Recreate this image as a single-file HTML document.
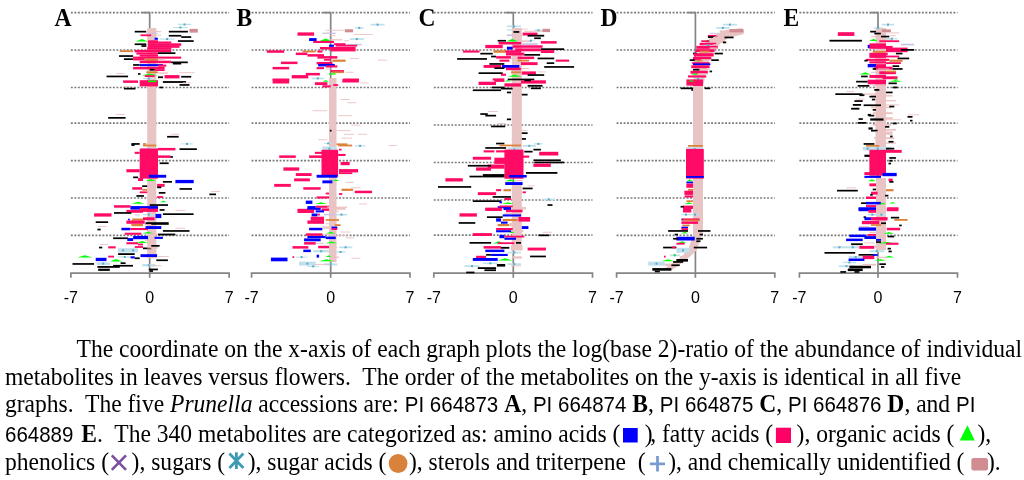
<!DOCTYPE html>
<html><head><meta charset="utf-8"><style>
html,body{margin:0;padding:0;background:#fff;width:1024px;height:480px;overflow:hidden;position:relative}
svg{position:absolute;left:0;top:0}
#ch{filter:blur(0.3px)}
.g{stroke:#7a7a7a;stroke-width:1.7;stroke-dasharray:1.9 1.6;fill:none}
.ax{stroke:#858585;stroke-width:1.7;fill:none}
.pl{position:absolute;font:bold 23.55px/1 "Liberation Serif",serif;color:#000;top:7px;transform-origin:0 19px;transform:scaleY(1.035);filter:grayscale(1)}
.tk{position:absolute;top:289.8px;width:60px;text-align:center;font:16px/1 "Liberation Sans",sans-serif;color:#000;filter:grayscale(1)}
.ln{position:absolute;left:0;white-space:nowrap;font:23.55px/1 "Liberation Serif",serif;color:#000;transform-origin:0 19px;transform:scaleY(1.035);filter:grayscale(1)}
.sf{font-family:"Liberation Sans",sans-serif;font-size:20.5px}
.sp{display:inline-block;width:22.6px}
</style></head><body>
<svg id="ch" width="1024" height="320" viewBox="0 0 1024 320">
<line x1="70.9" y1="12.60" x2="229.1" y2="12.60" class="g"/>
<line x1="70.9" y1="50.00" x2="229.1" y2="50.00" class="g"/>
<line x1="70.9" y1="87.50" x2="229.1" y2="87.50" class="g"/>
<line x1="70.9" y1="123.10" x2="229.1" y2="123.10" class="g"/>
<line x1="70.9" y1="160.60" x2="229.1" y2="160.60" class="g"/>
<line x1="70.9" y1="198.00" x2="229.1" y2="198.00" class="g"/>
<line x1="70.9" y1="235.40" x2="229.1" y2="235.40" class="g"/>
<line x1="251.6" y1="12.60" x2="410.0" y2="12.60" class="g"/>
<line x1="251.6" y1="50.00" x2="410.0" y2="50.00" class="g"/>
<line x1="251.6" y1="87.50" x2="410.0" y2="87.50" class="g"/>
<line x1="251.6" y1="123.10" x2="410.0" y2="123.10" class="g"/>
<line x1="251.6" y1="160.60" x2="410.0" y2="160.60" class="g"/>
<line x1="251.6" y1="198.00" x2="410.0" y2="198.00" class="g"/>
<line x1="251.6" y1="235.40" x2="410.0" y2="235.40" class="g"/>
<line x1="433.8" y1="12.60" x2="592.5" y2="12.60" class="g"/>
<line x1="433.8" y1="50.00" x2="592.5" y2="50.00" class="g"/>
<line x1="433.8" y1="87.50" x2="592.5" y2="87.50" class="g"/>
<line x1="433.8" y1="125.00" x2="592.5" y2="125.00" class="g"/>
<line x1="433.8" y1="162.50" x2="592.5" y2="162.50" class="g"/>
<line x1="433.8" y1="200.00" x2="592.5" y2="200.00" class="g"/>
<line x1="433.8" y1="235.10" x2="592.5" y2="235.10" class="g"/>
<line x1="616.6" y1="12.60" x2="774.8" y2="12.60" class="g"/>
<line x1="616.6" y1="50.00" x2="774.8" y2="50.00" class="g"/>
<line x1="616.6" y1="87.50" x2="774.8" y2="87.50" class="g"/>
<line x1="616.6" y1="123.10" x2="774.8" y2="123.10" class="g"/>
<line x1="616.6" y1="160.60" x2="774.8" y2="160.60" class="g"/>
<line x1="616.6" y1="198.00" x2="774.8" y2="198.00" class="g"/>
<line x1="616.6" y1="235.40" x2="774.8" y2="235.40" class="g"/>
<line x1="799.4" y1="12.60" x2="957.5" y2="12.60" class="g"/>
<line x1="799.4" y1="50.00" x2="957.5" y2="50.00" class="g"/>
<line x1="799.4" y1="87.50" x2="957.5" y2="87.50" class="g"/>
<line x1="799.4" y1="123.10" x2="957.5" y2="123.10" class="g"/>
<line x1="799.4" y1="160.60" x2="957.5" y2="160.60" class="g"/>
<line x1="799.4" y1="198.00" x2="957.5" y2="198.00" class="g"/>
<line x1="799.4" y1="235.40" x2="957.5" y2="235.40" class="g"/>
<path d="M70.9 277.8V273.2H229.1V277.8M149.7 277.8V273.2" class="ax"/>
<path d="M142.2 12.7H149.7V273.2" class="ax"/>
<path d="M251.6 277.8V273.2H410.0V277.8M330.7 277.8V273.2" class="ax"/>
<path d="M323.2 12.7H330.7V273.2" class="ax"/>
<path d="M433.8 277.8V273.2H592.5V277.8M513.3 277.8V273.2" class="ax"/>
<path d="M505.8 12.7H513.3V273.2" class="ax"/>
<path d="M616.6 277.8V273.2H774.8V277.8M695.4 277.8V273.2" class="ax"/>
<path d="M687.9 12.7H695.4V273.2" class="ax"/>
<path d="M799.4 277.8V273.2H957.5V277.8M878.0 277.8V273.2" class="ax"/>
<path d="M870.5 12.7H878.0V273.2" class="ax"/>
<rect x="147.2" y="28" width="9.1" height="124.0" fill="#e8c4c4"/>
<rect x="147.2" y="176" width="9.1" height="82.0" fill="#e8c4c4"/>
<rect x="329" y="78" width="7.5" height="74.0" fill="#e8c4c4"/>
<rect x="329" y="176" width="7.5" height="86.0" fill="#e8c4c4"/>
<rect x="511.8" y="28" width="10.0" height="124.0" fill="#e8c4c4"/>
<rect x="511.8" y="183" width="10.0" height="67.0" fill="#e8c4c4"/>
<rect x="693" y="84" width="10.0" height="68.0" fill="#e8c4c4"/>
<rect x="693" y="178" width="10.0" height="57.0" fill="#e8c4c4"/>
<rect x="875.5" y="28" width="10.5" height="124.0" fill="#e8c4c4"/>
<rect x="876" y="178" width="10.0" height="72.0" fill="#e8c4c4"/>
<path d="M693 235L688 250H697L703 230Z" fill="#e8c4c4"/>
<path d="M693 86L695 62L701 47L711 37L726 30L742 28L744 34L728 38L717 46L709 60L703 86Z" fill="#e8c4c4"/>
<path d="M688 250L680 258L668 266L664 270L672 270L684 262L697 250Z" fill="#e8c4c4"/>
<rect x="177.9" y="23.8" width="13.3" height="1.3" fill="#c0e0ec"/>
<rect x="183.5" y="23.5" width="2" height="2" fill="#5aaac4"/>
<rect x="172.9" y="27.0" width="14.9" height="1.0" fill="#c0e0ec"/>
<rect x="179.4" y="26.5" width="2" height="2" fill="#5aaac4"/>
<rect x="189.5" y="28.9" width="8.3" height="3.7" fill="#d08c90"/>
<rect x="134.7" y="30.8" width="11.6" height="1.7" fill="#000"/>
<rect x="146.3" y="31.1" width="14.9" height="1.0" fill="#ebc3c3"/>
<rect x="168.8" y="30.8" width="19.1" height="1.7" fill="#000"/>
<rect x="146.3" y="32.8" width="11.6" height="1.0" fill="#cbc3e3"/>
<rect x="140.5" y="34.4" width="10.8" height="1.8" fill="#ff0a64"/>
<rect x="151.3" y="34.8" width="10.0" height="0.9" fill="#ebc3c3"/>
<rect x="168.8" y="34.9" width="12.5" height="1.7" fill="#000"/>
<rect x="181.2" y="36.2" width="10.0" height="1.7" fill="#000"/>
<rect x="154.6" y="37.7" width="3.3" height="2.1" fill="#0000ff"/>
<rect x="159.6" y="38.4" width="14.9" height="1.3" fill="#c0e0ec"/>
<rect x="166.1" y="38.1" width="2" height="2" fill="#5aaac4"/>
<path d="M141.8 38.9L148.0 41.6H135.6Z" fill="#00ff00"/>
<rect x="148.0" y="40.3" width="10.0" height="1.8" fill="#ff0a64"/>
<rect x="177.9" y="40.2" width="15.8" height="1.7" fill="#000"/>
<rect x="148.0" y="41.5" width="23.2" height="2.1" fill="#ff0a64"/>
<rect x="134.7" y="43.4" width="11.6" height="1.7" fill="#000"/>
<rect x="148.0" y="43.3" width="33.2" height="2.5" fill="#ff0a64"/>
<rect x="141.4" y="45.2" width="5.0" height="1.7" fill="#000"/>
<rect x="148.0" y="45.3" width="31.5" height="2.5" fill="#ff0a64"/>
<rect x="147.2" y="47.3" width="24.1" height="2.5" fill="#ff0a64"/>
<rect x="119.8" y="50.3" width="13.3" height="1.8" fill="#dc8238"/>
<rect x="134.7" y="49.9" width="36.5" height="2.5" fill="#ff0a64"/>
<rect x="136.4" y="52.5" width="21.6" height="2.1" fill="#ff0a64"/>
<rect x="158.0" y="52.3" width="17.4" height="1.7" fill="#000"/>
<rect x="119.0" y="55.2" width="14.1" height="1.7" fill="#000"/>
<rect x="139.7" y="54.6" width="18.3" height="2.1" fill="#ff0a64"/>
<rect x="133.1" y="56.6" width="48.1" height="2.1" fill="#ff0a64"/>
<rect x="123.9" y="58.3" width="9.1" height="1.7" fill="#000"/>
<rect x="133.1" y="58.3" width="11.6" height="2.1" fill="#ff0a64"/>
<rect x="144.7" y="58.7" width="13.3" height="2.2" fill="#dc8238"/>
<rect x="158.0" y="58.7" width="6.6" height="1.3" fill="#ebc3c3"/>
<rect x="139.7" y="60.7" width="31.5" height="2.5" fill="#ff0a64"/>
<rect x="171.2" y="61.5" width="16.6" height="1.7" fill="#000"/>
<rect x="172.9" y="62.8" width="8.3" height="1.7" fill="#000"/>
<rect x="133.1" y="64.1" width="6.6" height="1.7" fill="#000"/>
<rect x="139.7" y="64.1" width="23.2" height="2.1" fill="#0000ff"/>
<rect x="158.0" y="64.6" width="8.3" height="2.1" fill="#ff0a64"/>
<rect x="133.1" y="66.9" width="31.5" height="2.5" fill="#ff0a64"/>
<rect x="149.7" y="68.9" width="5.0" height="1.7" fill="#000"/>
<rect x="154.6" y="69.2" width="10.0" height="1.8" fill="#ff0a64"/>
<rect x="146.3" y="71.4" width="11.6" height="1.8" fill="#dc8238"/>
<rect x="158.0" y="72.4" width="10.0" height="1.3" fill="#ebc3c3"/>
<rect x="138.0" y="73.1" width="2.5" height="1.7" fill="#000"/>
<path d="M149.7 73.4L158.0 75.4H141.4Z" fill="#00ff00"/>
<rect x="116.5" y="73.1" width="8.3" height="0.9" fill="#ebc3c3"/>
<rect x="106.5" y="75.6" width="21.6" height="1.7" fill="#000"/>
<rect x="144.7" y="75.2" width="10.0" height="1.8" fill="#ff0a64"/>
<rect x="158.0" y="76.4" width="5.0" height="1.7" fill="#000"/>
<rect x="164.6" y="75.1" width="14.9" height="3.3" fill="#ff0a64"/>
<rect x="181.2" y="75.9" width="10.0" height="1.7" fill="#000"/>
<rect x="179.5" y="72.2" width="14.9" height="0.9" fill="#ebc3c3"/>
<rect x="143.0" y="77.9" width="11.6" height="1.3" fill="#c0e0ec"/>
<rect x="147.8" y="77.6" width="2" height="2" fill="#5aaac4"/>
<rect x="123.1" y="80.4" width="14.9" height="2.5" fill="#ff0a64"/>
<rect x="139.7" y="80.2" width="18.3" height="6.2" fill="#ff0a64"/>
<rect x="148.0" y="80.5" width="8.3" height="1.7" fill="#00ff00"/>
<rect x="162.9" y="81.1" width="23.2" height="1.8" fill="#000"/>
<rect x="182.9" y="82.5" width="8.3" height="0.9" fill="#ebc3c3"/>
<rect x="179.5" y="84.1" width="10.0" height="1.7" fill="#000"/>
<rect x="123.1" y="86.2" width="8.3" height="0.9" fill="#ebc3c3"/>
<rect x="123.9" y="87.8" width="11.6" height="1.7" fill="#000"/>
<rect x="159.6" y="86.6" width="3.3" height="1.7" fill="#000"/>
<rect x="115.6" y="114.1" width="9.1" height="0.9" fill="#ebc3c3"/>
<rect x="108.2" y="117.0" width="17.4" height="1.7" fill="#000"/>
<rect x="171.2" y="133.8" width="8.3" height="0.9" fill="#ebc3c3"/>
<rect x="167.1" y="135.9" width="11.6" height="1.7" fill="#000"/>
<rect x="131.4" y="143.1" width="8.3" height="1.7" fill="#000"/>
<rect x="143.0" y="143.1" width="3.3" height="1.7" fill="#dc8238"/>
<rect x="181.2" y="143.4" width="11.6" height="1.0" fill="#c0e0ec"/>
<rect x="186.0" y="142.9" width="2" height="2" fill="#5aaac4"/>
<rect x="131.4" y="144.2" width="3.3" height="1.7" fill="#000"/>
<rect x="143.0" y="144.6" width="13.3" height="1.8" fill="#dc8238"/>
<rect x="141.4" y="147.8" width="15.8" height="3.7" fill="#c0e0ec"/>
<rect x="148.2" y="148.6" width="2" height="2" fill="#5aaac4"/>
<rect x="158.0" y="147.9" width="17.4" height="2.5" fill="#ff0a64"/>
<rect x="179.5" y="148.3" width="17.4" height="1.7" fill="#000"/>
<rect x="134.7" y="151.8" width="5.0" height="2.1" fill="#ff0a64"/>
<rect x="139.7" y="148.5" width="18.3" height="30.1" fill="#ff0a64"/>
<rect x="158.0" y="155.4" width="12.5" height="2.5" fill="#ff0a64"/>
<rect x="170.4" y="156.1" width="2.5" height="1.7" fill="#000"/>
<rect x="159.6" y="162.4" width="9.1" height="1.7" fill="#000"/>
<rect x="126.4" y="169.2" width="13.3" height="3.1" fill="#ff0a64"/>
<rect x="148.8" y="174.8" width="17.4" height="2.9" fill="#0000ff"/>
<rect x="133.1" y="176.5" width="5.0" height="1.7" fill="#000"/>
<rect x="138.0" y="178.1" width="5.0" height="2.9" fill="#ff0a64"/>
<path d="M150.9 178.9L156.3 180.9H145.5Z" fill="#00ff00"/>
<rect x="162.9" y="181.0" width="9.1" height="1.7" fill="#000"/>
<rect x="175.4" y="179.9" width="18.3" height="3.3" fill="#0000ff"/>
<rect x="142.2" y="185.3" width="5.0" height="1.7" fill="#000"/>
<rect x="157.1" y="183.9" width="7.5" height="2.9" fill="#ff0a64"/>
<rect x="132.2" y="187.2" width="10.0" height="2.5" fill="#ff0a64"/>
<rect x="142.2" y="189.0" width="5.0" height="1.7" fill="#dc8238"/>
<rect x="157.1" y="186.5" width="4.2" height="1.7" fill="#000"/>
<rect x="179.5" y="188.1" width="12.5" height="1.7" fill="#000"/>
<rect x="139.7" y="191.4" width="7.5" height="1.8" fill="#ff0a64"/>
<rect x="158.8" y="192.0" width="6.6" height="1.7" fill="#000"/>
<rect x="211.1" y="191.0" width="9.1" height="0.9" fill="#ebc3c3"/>
<rect x="209.4" y="193.5" width="6.6" height="1.7" fill="#000"/>
<rect x="136.4" y="195.1" width="7.5" height="1.7" fill="#000"/>
<rect x="157.1" y="196.1" width="5.8" height="1.8" fill="#ff0a64"/>
<path d="M138.0 201.8L144.7 203.8H131.4Z" fill="#00ff00"/>
<path d="M163.4 200.6L166.3 202.3H160.5Z" fill="#00ff00"/>
<rect x="114.0" y="205.2" width="16.6" height="2.5" fill="#ff0a64"/>
<rect x="149.7" y="204.2" width="18.3" height="1.7" fill="#000"/>
<rect x="130.6" y="206.1" width="27.4" height="3.3" fill="#0000ff"/>
<rect x="139.7" y="208.0" width="8.3" height="1.8" fill="#ff0a64"/>
<rect x="130.6" y="207.6" width="9.1" height="1.8" fill="#0000ff"/>
<rect x="143.0" y="208.6" width="14.9" height="2.1" fill="#ff0a64"/>
<rect x="159.6" y="209.1" width="5.0" height="1.7" fill="#000"/>
<rect x="175.4" y="209.9" width="10.0" height="0.9" fill="#ebc3c3"/>
<rect x="126.4" y="209.9" width="16.6" height="2.9" fill="#ff0a64"/>
<rect x="142.2" y="210.1" width="15.8" height="1.8" fill="#ff0a64"/>
<rect x="94.1" y="213.3" width="17.4" height="3.3" fill="#ff0a64"/>
<rect x="114.0" y="212.1" width="17.4" height="1.7" fill="#000"/>
<rect x="134.7" y="214.5" width="5.0" height="1.0" fill="#cbc3e3"/>
<rect x="143.0" y="214.0" width="11.6" height="1.3" fill="#c0e0ec"/>
<rect x="147.8" y="213.6" width="2" height="2" fill="#5aaac4"/>
<rect x="155.5" y="213.9" width="5.8" height="4.2" fill="#0000ff"/>
<rect x="162.9" y="213.3" width="30.7" height="1.7" fill="#000"/>
<rect x="132.2" y="218.5" width="10.8" height="2.2" fill="#dc8238"/>
<rect x="143.0" y="217.3" width="11.6" height="2.9" fill="#ff0a64"/>
<rect x="128.1" y="218.7" width="1.7" height="1.8" fill="#0000ff"/>
<rect x="95.7" y="221.3" width="12.5" height="1.7" fill="#000"/>
<rect x="126.4" y="220.5" width="18.3" height="3.3" fill="#ff0a64"/>
<rect x="145.5" y="222.2" width="23.2" height="2.6" fill="#000"/>
<rect x="131.4" y="224.0" width="11.6" height="2.2" fill="#dc8238"/>
<rect x="144.7" y="224.1" width="6.6" height="1.0" fill="#ebc3c3"/>
<rect x="98.2" y="226.1" width="8.3" height="0.9" fill="#ebc3c3"/>
<rect x="121.4" y="227.8" width="9.1" height="2.5" fill="#0000ff"/>
<rect x="130.6" y="228.0" width="17.4" height="2.1" fill="#ff0a64"/>
<rect x="145.5" y="226.1" width="15.8" height="2.9" fill="#0000ff"/>
<rect x="97.4" y="228.7" width="3.3" height="1.7" fill="#000"/>
<rect x="162.9" y="230.1" width="26.6" height="1.7" fill="#000"/>
<rect x="175.4" y="227.8" width="10.0" height="0.9" fill="#ebc3c3"/>
<path d="M148.0 231.7L153.8 233.4H142.2Z" fill="#00ff00"/>
<rect x="124.8" y="232.7" width="16.6" height="2.1" fill="#ff0a64"/>
<rect x="148.0" y="233.6" width="10.0" height="1.3" fill="#ebc3c3"/>
<rect x="158.0" y="233.6" width="17.4" height="1.8" fill="#000"/>
<rect x="113.1" y="237.4" width="14.9" height="1.7" fill="#000"/>
<rect x="127.3" y="238.1" width="5.8" height="2.9" fill="#0000ff"/>
<rect x="133.1" y="235.9" width="14.9" height="3.3" fill="#0000ff"/>
<rect x="148.0" y="236.4" width="10.0" height="1.3" fill="#ebc3c3"/>
<rect x="154.6" y="236.8" width="8.3" height="2.1" fill="#0000ff"/>
<rect x="144.7" y="239.9" width="10.0" height="1.0" fill="#ebc3c3"/>
<rect x="126.4" y="242.2" width="11.6" height="2.1" fill="#ff0a64"/>
<path d="M142.2 241.0L148.0 243.0H136.4Z" fill="#00ff00"/>
<rect x="138.0" y="243.6" width="5.0" height="1.8" fill="#ff0a64"/>
<rect x="99.9" y="244.1" width="8.3" height="0.9" fill="#ebc3c3"/>
<rect x="99.0" y="246.7" width="3.3" height="1.7" fill="#000"/>
<rect x="108.2" y="246.3" width="7.5" height="2.1" fill="#ff0a64"/>
<rect x="118.1" y="248.2" width="19.9" height="4.3" fill="#c0e0ec"/>
<rect x="122.1" y="249.3" width="2" height="2" fill="#5aaac4"/>
<rect x="132.1" y="249.3" width="2" height="2" fill="#5aaac4"/>
<rect x="134.7" y="246.1" width="8.3" height="1.8" fill="#ff0a64"/>
<rect x="143.0" y="247.5" width="8.3" height="1.7" fill="#000"/>
<rect x="147.2" y="247.2" width="10.8" height="1.3" fill="#ebc3c3"/>
<rect x="151.3" y="245.0" width="8.3" height="1.7" fill="#000"/>
<rect x="118.1" y="253.2" width="16.6" height="1.8" fill="#000"/>
<path d="M84.9 255.3L92.4 257.6H77.5Z" fill="#00ff00"/>
<rect x="108.2" y="255.7" width="5.8" height="1.8" fill="#ff0a64"/>
<rect x="118.1" y="256.3" width="13.3" height="1.3" fill="#c0e0ec"/>
<rect x="123.8" y="256.0" width="2" height="2" fill="#5aaac4"/>
<rect x="130.6" y="256.3" width="4.2" height="2.1" fill="#0000ff"/>
<rect x="134.7" y="257.4" width="5.0" height="1.7" fill="#000"/>
<rect x="140.5" y="254.2" width="16.6" height="2.9" fill="#0000ff"/>
<rect x="158.0" y="256.0" width="10.8" height="0.9" fill="#ebc3c3"/>
<rect x="95.7" y="257.8" width="10.8" height="3.3" fill="#0000ff"/>
<path d="M116.0 259.1L122.3 261.5H109.8Z" fill="#00ff00"/>
<rect x="156.3" y="259.4" width="11.6" height="1.7" fill="#000"/>
<rect x="148.0" y="257.3" width="9.1" height="1.0" fill="#ebc3c3"/>
<rect x="72.5" y="263.1" width="21.6" height="1.7" fill="#000"/>
<rect x="96.5" y="262.3" width="13.3" height="2.7" fill="#c0e0ec"/>
<rect x="102.2" y="262.6" width="2" height="2" fill="#5aaac4"/>
<rect x="120.6" y="262.3" width="5.0" height="1.7" fill="#000"/>
<rect x="97.4" y="266.0" width="22.4" height="1.8" fill="#000"/>
<rect x="113.1" y="264.9" width="19.9" height="1.7" fill="#000"/>
<rect x="142.2" y="264.1" width="13.3" height="2.3" fill="#c0e0ec"/>
<rect x="147.8" y="264.3" width="2" height="2" fill="#5aaac4"/>
<rect x="149.7" y="265.3" width="11.6" height="0.9" fill="#ebc3c3"/>
<rect x="98.2" y="268.7" width="11.6" height="2.2" fill="#000"/>
<rect x="148.8" y="268.6" width="9.1" height="1.7" fill="#000"/>
<rect x="149.7" y="270.2" width="3.3" height="1.7" fill="#000"/>
<rect x="370.5" y="23.8" width="14.1" height="1.7" fill="#c0e0ec"/>
<rect x="376.6" y="23.6" width="2" height="2" fill="#5aaac4"/>
<rect x="354.7" y="27.3" width="9.1" height="1.3" fill="#c0e0ec"/>
<rect x="358.3" y="26.9" width="2" height="2" fill="#5aaac4"/>
<rect x="344.8" y="29.3" width="8.3" height="3.0" fill="#d08c90"/>
<rect x="325.7" y="29.8" width="18.3" height="0.9" fill="#ebc3c3"/>
<rect x="322.4" y="32.6" width="13.3" height="1.3" fill="#cbc3e3"/>
<rect x="353.9" y="34.1" width="19.1" height="0.9" fill="#ebc3c3"/>
<rect x="297.5" y="32.4" width="16.6" height="3.3" fill="#ff0a64"/>
<rect x="329.0" y="35.3" width="6.6" height="0.9" fill="#ebc3c3"/>
<rect x="309.1" y="38.1" width="7.5" height="2.9" fill="#0000ff"/>
<path d="M325.7 38.6L332.3 41.2H319.0Z" fill="#00ff00"/>
<rect x="329.0" y="39.2" width="13.3" height="1.3" fill="#ebc3c3"/>
<rect x="349.8" y="38.2" width="14.1" height="1.7" fill="#c0e0ec"/>
<rect x="355.8" y="38.1" width="2" height="2" fill="#5aaac4"/>
<rect x="313.2" y="40.9" width="20.8" height="2.1" fill="#ff0a64"/>
<rect x="343.9" y="40.3" width="5.0" height="0.9" fill="#ebc3c3"/>
<rect x="334.0" y="43.2" width="11.6" height="1.8" fill="#ff0a64"/>
<rect x="329.0" y="44.7" width="5.0" height="2.1" fill="#0000ff"/>
<rect x="347.3" y="43.9" width="14.9" height="1.3" fill="#cbc3e3"/>
<rect x="335.6" y="44.8" width="21.6" height="1.8" fill="#ff0a64"/>
<rect x="319.9" y="47.0" width="35.7" height="2.5" fill="#ff0a64"/>
<rect x="330.7" y="48.9" width="24.9" height="2.5" fill="#ff0a64"/>
<rect x="266.8" y="50.3" width="17.4" height="2.5" fill="#ff0a64"/>
<rect x="302.4" y="50.6" width="13.3" height="1.8" fill="#dc8238"/>
<rect x="317.4" y="50.5" width="5.0" height="2.1" fill="#ff0a64"/>
<rect x="295.8" y="52.6" width="11.6" height="2.5" fill="#ff0a64"/>
<rect x="307.4" y="54.1" width="16.6" height="2.5" fill="#ff0a64"/>
<rect x="317.4" y="56.1" width="19.9" height="2.5" fill="#ff0a64"/>
<rect x="332.3" y="59.6" width="13.3" height="2.2" fill="#dc8238"/>
<rect x="324.0" y="58.9" width="6.6" height="1.8" fill="#ff0a64"/>
<rect x="349.8" y="58.0" width="9.1" height="0.9" fill="#ebc3c3"/>
<rect x="378.0" y="59.7" width="9.1" height="0.9" fill="#ebc3c3"/>
<rect x="280.9" y="61.6" width="16.6" height="2.5" fill="#ff0a64"/>
<rect x="316.6" y="61.9" width="15.8" height="2.5" fill="#ff0a64"/>
<rect x="318.2" y="63.9" width="16.6" height="2.5" fill="#0000ff"/>
<rect x="325.7" y="65.4" width="11.6" height="2.1" fill="#ff0a64"/>
<rect x="272.6" y="66.9" width="16.6" height="2.5" fill="#ff0a64"/>
<rect x="316.6" y="67.1" width="7.5" height="2.1" fill="#ff0a64"/>
<rect x="325.7" y="68.5" width="6.6" height="0.9" fill="#ebc3c3"/>
<rect x="330.7" y="70.1" width="13.3" height="2.1" fill="#ff0a64"/>
<rect x="345.6" y="71.8" width="8.3" height="0.9" fill="#ebc3c3"/>
<rect x="332.3" y="71.4" width="11.6" height="1.7" fill="#dc8238"/>
<rect x="329.0" y="73.3" width="6.6" height="1.3" fill="#00ff00"/>
<rect x="305.8" y="72.9" width="14.1" height="2.5" fill="#ff0a64"/>
<rect x="291.7" y="75.1" width="16.6" height="3.3" fill="#ff0a64"/>
<rect x="311.6" y="77.6" width="12.5" height="1.7" fill="#c0e0ec"/>
<rect x="316.8" y="77.4" width="2" height="2" fill="#5aaac4"/>
<rect x="272.6" y="78.5" width="16.6" height="1.8" fill="#ff0a64"/>
<rect x="343.1" y="78.5" width="15.8" height="1.8" fill="#ff0a64"/>
<rect x="272.6" y="79.3" width="16.6" height="4.2" fill="#ff0a64"/>
<rect x="342.3" y="79.2" width="16.6" height="3.3" fill="#ff0a64"/>
<rect x="360.5" y="82.5" width="8.3" height="0.9" fill="#ebc3c3"/>
<path d="M325.7 80.0L329.0 81.7H322.4Z" fill="#00ff00"/>
<rect x="314.9" y="82.2" width="12.5" height="2.9" fill="#ff0a64"/>
<rect x="322.4" y="85.3" width="8.3" height="2.1" fill="#ff0a64"/>
<rect x="333.2" y="84.1" width="5.0" height="1.8" fill="#ff0a64"/>
<rect x="340.6" y="99.0" width="9.1" height="0.9" fill="#ebc3c3"/>
<rect x="347.3" y="102.3" width="9.1" height="0.9" fill="#ebc3c3"/>
<rect x="312.4" y="110.3" width="14.9" height="0.9" fill="#ebc3c3"/>
<rect x="338.1" y="115.2" width="14.1" height="0.9" fill="#ebc3c3"/>
<rect x="351.4" y="124.7" width="9.1" height="0.9" fill="#ebc3c3"/>
<rect x="336.5" y="130.2" width="14.1" height="0.9" fill="#ebc3c3"/>
<rect x="329.8" y="129.8" width="1.7" height="1.7" fill="#000"/>
<rect x="343.9" y="133.8" width="10.0" height="0.9" fill="#ebc3c3"/>
<rect x="358.1" y="133.8" width="9.1" height="0.9" fill="#ebc3c3"/>
<rect x="341.5" y="137.7" width="10.8" height="0.9" fill="#ebc3c3"/>
<rect x="318.2" y="139.3" width="9.1" height="0.9" fill="#ebc3c3"/>
<rect x="336.5" y="143.4" width="10.8" height="1.7" fill="#dc8238"/>
<rect x="324.0" y="142.9" width="8.3" height="1.0" fill="#c0e0ec"/>
<rect x="327.2" y="142.4" width="2" height="2" fill="#5aaac4"/>
<rect x="338.1" y="144.6" width="14.1" height="1.8" fill="#dc8238"/>
<rect x="354.7" y="145.2" width="10.8" height="1.3" fill="#c0e0ec"/>
<rect x="359.1" y="144.8" width="2" height="2" fill="#5aaac4"/>
<rect x="388.8" y="145.0" width="8.3" height="0.9" fill="#ebc3c3"/>
<rect x="322.4" y="146.5" width="14.1" height="4.3" fill="#c0e0ec"/>
<rect x="328.4" y="147.7" width="2" height="2" fill="#5aaac4"/>
<rect x="339.0" y="148.7" width="2.5" height="1.8" fill="#ff0a64"/>
<rect x="314.9" y="151.8" width="7.5" height="2.1" fill="#ff0a64"/>
<rect x="279.2" y="155.4" width="16.6" height="2.5" fill="#ff0a64"/>
<rect x="309.1" y="155.4" width="13.3" height="2.5" fill="#ff0a64"/>
<rect x="321.5" y="149.8" width="16.6" height="27.0" fill="#ff0a64"/>
<rect x="338.1" y="153.9" width="7.5" height="2.1" fill="#ff0a64"/>
<rect x="340.6" y="161.9" width="9.1" height="3.3" fill="#ff0a64"/>
<rect x="339.0" y="169.1" width="19.1" height="3.3" fill="#ff0a64"/>
<rect x="339.0" y="172.3" width="13.3" height="1.8" fill="#ff0a64"/>
<rect x="283.4" y="167.4" width="15.8" height="3.3" fill="#ff0a64"/>
<rect x="295.8" y="173.1" width="15.8" height="2.9" fill="#ff0a64"/>
<rect x="316.6" y="174.8" width="20.8" height="2.9" fill="#0000ff"/>
<rect x="294.1" y="178.4" width="15.8" height="2.9" fill="#ff0a64"/>
<rect x="322.4" y="180.4" width="10.0" height="2.9" fill="#0000ff"/>
<path d="M336.1 179.4L339.8 181.0H332.3Z" fill="#00ff00"/>
<rect x="345.6" y="181.9" width="8.3" height="0.9" fill="#ebc3c3"/>
<rect x="274.2" y="183.9" width="16.6" height="2.9" fill="#ff0a64"/>
<rect x="303.3" y="187.2" width="17.4" height="2.5" fill="#ff0a64"/>
<rect x="341.5" y="188.7" width="11.6" height="2.2" fill="#dc8238"/>
<rect x="350.6" y="187.4" width="10.0" height="0.9" fill="#ebc3c3"/>
<rect x="354.7" y="190.7" width="17.4" height="2.5" fill="#ff0a64"/>
<rect x="325.7" y="192.6" width="3.3" height="1.8" fill="#ff0a64"/>
<rect x="339.0" y="193.1" width="3.3" height="1.8" fill="#ff0a64"/>
<rect x="316.6" y="196.4" width="12.5" height="2.1" fill="#ff0a64"/>
<rect x="305.8" y="200.6" width="6.6" height="3.3" fill="#0000ff"/>
<path d="M321.1 202.3L327.3 203.9H314.9Z" fill="#00ff00"/>
<rect x="358.9" y="203.5" width="8.3" height="0.9" fill="#ebc3c3"/>
<rect x="307.4" y="206.1" width="8.3" height="2.9" fill="#0000ff"/>
<rect x="315.7" y="205.7" width="13.3" height="2.1" fill="#ff0a64"/>
<rect x="327.3" y="206.6" width="19.9" height="1.3" fill="#ebc3c3"/>
<rect x="297.5" y="208.8" width="11.6" height="1.8" fill="#ff0a64"/>
<rect x="307.4" y="207.8" width="13.3" height="2.1" fill="#0000ff"/>
<rect x="321.5" y="208.4" width="7.5" height="2.5" fill="#ff0a64"/>
<rect x="329.0" y="208.0" width="16.6" height="1.7" fill="#ebc3c3"/>
<rect x="297.5" y="209.7" width="16.6" height="3.3" fill="#ff0a64"/>
<rect x="315.7" y="210.3" width="8.3" height="2.1" fill="#0000ff"/>
<rect x="329.0" y="210.8" width="10.0" height="1.0" fill="#ebc3c3"/>
<rect x="311.6" y="213.5" width="5.8" height="2.9" fill="#0000ff"/>
<rect x="317.4" y="213.7" width="2.5" height="1.8" fill="#ff0a64"/>
<rect x="324.0" y="214.0" width="11.6" height="1.3" fill="#cbc3e3"/>
<rect x="335.6" y="213.8" width="11.6" height="1.7" fill="#c0e0ec"/>
<rect x="340.5" y="213.6" width="2" height="2" fill="#5aaac4"/>
<rect x="310.7" y="216.7" width="13.3" height="4.2" fill="#ff0a64"/>
<rect x="325.7" y="219.1" width="13.3" height="1.7" fill="#dc8238"/>
<rect x="307.4" y="220.5" width="16.6" height="3.3" fill="#ff0a64"/>
<rect x="325.7" y="223.3" width="6.6" height="1.0" fill="#ebc3c3"/>
<rect x="334.8" y="224.2" width="5.8" height="1.8" fill="#dc8238"/>
<rect x="309.1" y="227.8" width="13.3" height="2.5" fill="#0000ff"/>
<rect x="322.4" y="226.4" width="9.1" height="2.3" fill="#ebc3c3"/>
<rect x="331.5" y="226.6" width="5.8" height="2.1" fill="#0000ff"/>
<rect x="331.5" y="228.2" width="5.8" height="1.8" fill="#ff0a64"/>
<rect x="340.6" y="231.6" width="10.0" height="0.9" fill="#ebc3c3"/>
<path d="M330.7 231.7L335.6 233.4H325.7Z" fill="#00ff00"/>
<rect x="305.8" y="233.3" width="16.6" height="2.5" fill="#ff0a64"/>
<rect x="324.0" y="234.1" width="8.3" height="1.0" fill="#ebc3c3"/>
<rect x="337.3" y="234.9" width="10.0" height="1.0" fill="#ebc3c3"/>
<rect x="307.4" y="236.0" width="18.3" height="2.1" fill="#0000ff"/>
<rect x="304.1" y="238.4" width="16.6" height="2.9" fill="#0000ff"/>
<rect x="325.7" y="236.6" width="10.0" height="2.5" fill="#0000ff"/>
<rect x="345.6" y="237.4" width="8.3" height="0.9" fill="#ebc3c3"/>
<path d="M331.5 241.5L337.3 243.2H325.7Z" fill="#00ff00"/>
<rect x="304.1" y="242.1" width="11.6" height="2.5" fill="#ff0a64"/>
<rect x="315.7" y="242.9" width="8.3" height="1.0" fill="#ebc3c3"/>
<rect x="292.5" y="246.1" width="15.8" height="2.5" fill="#ff0a64"/>
<rect x="318.2" y="245.8" width="10.8" height="2.5" fill="#ff0a64"/>
<rect x="329.0" y="246.8" width="8.3" height="1.0" fill="#ebc3c3"/>
<rect x="339.0" y="246.5" width="13.3" height="1.7" fill="#c0e0ec"/>
<rect x="344.6" y="246.3" width="2" height="2" fill="#5aaac4"/>
<rect x="303.3" y="249.6" width="7.5" height="2.5" fill="#0000ff"/>
<rect x="313.2" y="250.0" width="15.8" height="2.3" fill="#c0e0ec"/>
<rect x="320.1" y="250.2" width="2" height="2" fill="#5aaac4"/>
<rect x="335.6" y="251.3" width="10.0" height="1.3" fill="#c0e0ec"/>
<rect x="339.6" y="251.0" width="2" height="2" fill="#5aaac4"/>
<rect x="316.6" y="254.7" width="2.5" height="2.9" fill="#0000ff"/>
<path d="M328.6 255.3L331.5 257.0H325.7Z" fill="#00ff00"/>
<rect x="330.7" y="256.6" width="8.3" height="1.3" fill="#ebc3c3"/>
<rect x="295.8" y="256.6" width="11.6" height="1.0" fill="#c0e0ec"/>
<rect x="300.6" y="256.1" width="2" height="2" fill="#5aaac4"/>
<rect x="292.5" y="256.2" width="1.7" height="1.8" fill="#ff0a64"/>
<rect x="270.9" y="257.6" width="16.6" height="3.7" fill="#0000ff"/>
<path d="M326.5 259.3L334.0 261.3H319.0Z" fill="#00ff00"/>
<rect x="351.4" y="257.8" width="9.1" height="0.9" fill="#ebc3c3"/>
<rect x="299.1" y="261.6" width="16.6" height="4.0" fill="#c0e0ec"/>
<rect x="306.4" y="262.6" width="2" height="2" fill="#5aaac4"/>
<rect x="324.0" y="263.4" width="13.3" height="2.0" fill="#c0e0ec"/>
<rect x="329.7" y="263.4" width="2" height="2" fill="#5aaac4"/>
<rect x="314.9" y="263.9" width="14.1" height="1.0" fill="#ebc3c3"/>
<rect x="307.4" y="265.9" width="11.6" height="1.0" fill="#c0e0ec"/>
<rect x="312.2" y="265.4" width="2" height="2" fill="#5aaac4"/>
<rect x="506.9" y="25.5" width="14.1" height="1.7" fill="#c0e0ec"/>
<rect x="512.9" y="25.3" width="2" height="2" fill="#5aaac4"/>
<rect x="506.9" y="29.3" width="5.8" height="1.3" fill="#c0e0ec"/>
<rect x="534.2" y="29.6" width="8.3" height="1.3" fill="#c0e0ec"/>
<rect x="537.4" y="29.3" width="2" height="2" fill="#5aaac4"/>
<rect x="542.5" y="28.8" width="7.5" height="3.3" fill="#d08c90"/>
<rect x="512.7" y="28.7" width="14.9" height="0.9" fill="#ebc3c3"/>
<rect x="513.5" y="31.1" width="5.8" height="1.7" fill="#000"/>
<rect x="524.3" y="30.8" width="18.3" height="1.0" fill="#ebc3c3"/>
<rect x="522.6" y="32.6" width="14.9" height="2.9" fill="#ff0a64"/>
<rect x="506.9" y="34.4" width="5.8" height="1.7" fill="#cbc3e3"/>
<rect x="512.7" y="34.9" width="10.0" height="1.7" fill="#ebc3c3"/>
<rect x="527.6" y="34.8" width="16.6" height="1.8" fill="#000"/>
<rect x="534.2" y="37.4" width="6.6" height="1.7" fill="#000"/>
<rect x="497.7" y="39.9" width="8.3" height="1.7" fill="#000"/>
<path d="M512.2 39.1L518.5 41.4H506.0Z" fill="#00ff00"/>
<rect x="517.6" y="40.4" width="13.3" height="1.7" fill="#ebc3c3"/>
<rect x="540.9" y="41.1" width="15.8" height="2.5" fill="#ff0a64"/>
<rect x="527.6" y="40.2" width="6.6" height="1.0" fill="#c0e0ec"/>
<rect x="529.9" y="39.7" width="2" height="2" fill="#5aaac4"/>
<rect x="498.6" y="42.0" width="22.4" height="2.5" fill="#ff0a64"/>
<rect x="521.0" y="43.2" width="16.6" height="1.7" fill="#cbc3e3"/>
<rect x="485.3" y="44.9" width="17.4" height="3.3" fill="#ff0a64"/>
<rect x="506.9" y="46.7" width="5.8" height="2.9" fill="#0000ff"/>
<rect x="512.7" y="45.3" width="29.9" height="2.5" fill="#ff0a64"/>
<rect x="540.9" y="48.3" width="23.2" height="1.7" fill="#000"/>
<rect x="515.2" y="48.4" width="25.7" height="2.9" fill="#ff0a64"/>
<rect x="462.9" y="50.5" width="16.6" height="2.1" fill="#ff0a64"/>
<rect x="493.6" y="50.2" width="11.6" height="2.6" fill="#dc8238"/>
<rect x="505.2" y="50.3" width="15.8" height="2.5" fill="#ff0a64"/>
<rect x="480.3" y="52.8" width="12.5" height="1.7" fill="#000"/>
<rect x="506.0" y="52.6" width="18.3" height="2.9" fill="#ff0a64"/>
<rect x="524.3" y="54.0" width="15.8" height="1.7" fill="#000"/>
<rect x="540.9" y="50.1" width="13.3" height="2.9" fill="#ff0a64"/>
<rect x="491.1" y="55.7" width="5.0" height="1.7" fill="#000"/>
<rect x="496.1" y="56.1" width="14.9" height="2.5" fill="#ff0a64"/>
<rect x="517.6" y="56.6" width="16.6" height="2.5" fill="#ff0a64"/>
<rect x="457.1" y="58.1" width="29.9" height="1.7" fill="#000"/>
<rect x="511.0" y="58.5" width="6.6" height="1.0" fill="#ebc3c3"/>
<rect x="537.6" y="57.6" width="16.6" height="1.7" fill="#000"/>
<rect x="499.4" y="59.6" width="10.0" height="2.1" fill="#ff0a64"/>
<rect x="517.6" y="59.7" width="11.6" height="1.8" fill="#dc8238"/>
<rect x="555.8" y="59.6" width="13.3" height="2.1" fill="#ff0a64"/>
<rect x="546.7" y="62.3" width="7.5" height="1.7" fill="#000"/>
<rect x="489.4" y="63.1" width="14.9" height="1.7" fill="#000"/>
<rect x="521.0" y="62.2" width="16.6" height="2.9" fill="#ff0a64"/>
<rect x="483.6" y="65.0" width="17.4" height="2.9" fill="#ff0a64"/>
<rect x="501.9" y="65.0" width="17.4" height="2.9" fill="#0000ff"/>
<rect x="544.2" y="66.1" width="29.9" height="1.7" fill="#000"/>
<rect x="506.0" y="67.7" width="14.9" height="2.5" fill="#ff0a64"/>
<rect x="521.0" y="68.0" width="8.3" height="1.0" fill="#ebc3c3"/>
<rect x="494.4" y="67.3" width="10.0" height="1.7" fill="#000"/>
<rect x="478.6" y="72.3" width="24.1" height="1.7" fill="#000"/>
<rect x="511.0" y="71.4" width="10.0" height="1.8" fill="#dc8238"/>
<rect x="521.8" y="71.4" width="14.1" height="3.3" fill="#ff0a64"/>
<rect x="501.0" y="73.7" width="5.0" height="2.1" fill="#ff0a64"/>
<rect x="537.6" y="71.5" width="8.3" height="0.9" fill="#ebc3c3"/>
<path d="M514.7 74.4L521.8 76.8H507.7Z" fill="#00ff00"/>
<rect x="527.6" y="74.2" width="16.6" height="1.7" fill="#000"/>
<rect x="492.7" y="78.4" width="11.6" height="2.1" fill="#ff0a64"/>
<rect x="507.7" y="78.6" width="26.6" height="1.7" fill="#000"/>
<rect x="478.6" y="81.7" width="17.4" height="3.3" fill="#ff0a64"/>
<rect x="494.4" y="79.8" width="10.0" height="2.1" fill="#ff0a64"/>
<path d="M507.7 80.0L511.0 81.6H504.4Z" fill="#00ff00"/>
<rect x="521.0" y="80.3" width="24.9" height="3.3" fill="#ff0a64"/>
<rect x="524.3" y="79.6" width="6.6" height="1.7" fill="#000"/>
<rect x="504.4" y="83.3" width="16.6" height="3.3" fill="#ff0a64"/>
<rect x="491.9" y="86.6" width="12.5" height="1.7" fill="#000"/>
<rect x="472.8" y="89.4" width="28.2" height="1.7" fill="#000"/>
<rect x="501.0" y="87.8" width="11.6" height="1.7" fill="#000"/>
<rect x="527.6" y="84.9" width="14.9" height="1.8" fill="#000"/>
<rect x="530.9" y="87.5" width="10.0" height="1.7" fill="#000"/>
<rect x="506.9" y="91.6" width="4.2" height="1.7" fill="#000"/>
<rect x="521.8" y="93.8" width="5.8" height="1.7" fill="#000"/>
<rect x="487.8" y="111.1" width="10.0" height="0.9" fill="#ebc3c3"/>
<rect x="480.3" y="113.2" width="7.5" height="1.7" fill="#000"/>
<rect x="485.3" y="114.8" width="10.8" height="1.7" fill="#000"/>
<rect x="506.9" y="118.5" width="4.2" height="1.7" fill="#000"/>
<rect x="497.7" y="123.0" width="8.3" height="0.9" fill="#ebc3c3"/>
<rect x="491.1" y="125.6" width="14.1" height="1.7" fill="#000"/>
<rect x="521.8" y="130.2" width="5.8" height="0.9" fill="#ebc3c3"/>
<rect x="521.8" y="132.3" width="5.8" height="1.7" fill="#000"/>
<rect x="521.8" y="138.1" width="4.2" height="1.7" fill="#000"/>
<rect x="496.1" y="142.7" width="8.3" height="1.7" fill="#000"/>
<rect x="534.2" y="143.2" width="8.3" height="1.3" fill="#c0e0ec"/>
<rect x="537.4" y="142.9" width="2" height="2" fill="#5aaac4"/>
<rect x="485.3" y="147.1" width="20.8" height="1.7" fill="#000"/>
<rect x="499.4" y="144.6" width="21.6" height="1.7" fill="#dc8238"/>
<rect x="522.6" y="145.0" width="13.3" height="1.7" fill="#c0e0ec"/>
<rect x="528.3" y="144.8" width="2" height="2" fill="#5aaac4"/>
<rect x="507.7" y="147.5" width="13.3" height="4.3" fill="#c0e0ec"/>
<rect x="513.3" y="148.6" width="2" height="2" fill="#5aaac4"/>
<rect x="483.6" y="150.3" width="10.8" height="2.1" fill="#ff0a64"/>
<rect x="496.1" y="150.3" width="10.0" height="2.1" fill="#ff0a64"/>
<rect x="524.3" y="150.8" width="8.3" height="1.7" fill="#000"/>
<rect x="533.4" y="148.8" width="7.5" height="1.7" fill="#000"/>
<rect x="539.2" y="151.8" width="19.1" height="3.7" fill="#ff0a64"/>
<rect x="504.4" y="149.6" width="19.1" height="29.1" fill="#ff0a64"/>
<rect x="472.8" y="156.8" width="18.3" height="2.9" fill="#ff0a64"/>
<rect x="494.4" y="157.7" width="11.6" height="6.2" fill="#ff0a64"/>
<rect x="476.1" y="167.4" width="14.9" height="3.3" fill="#ff0a64"/>
<rect x="487.8" y="164.5" width="16.6" height="4.2" fill="#ff0a64"/>
<rect x="522.6" y="155.6" width="6.6" height="2.1" fill="#ff0a64"/>
<rect x="533.4" y="159.4" width="27.4" height="1.7" fill="#000"/>
<rect x="534.2" y="161.6" width="29.9" height="1.7" fill="#000"/>
<rect x="533.4" y="163.6" width="17.4" height="3.3" fill="#ff0a64"/>
<rect x="467.8" y="164.9" width="23.2" height="1.7" fill="#000"/>
<rect x="525.9" y="172.0" width="31.5" height="1.8" fill="#000"/>
<rect x="469.5" y="175.7" width="13.3" height="1.7" fill="#000"/>
<rect x="482.8" y="174.1" width="21.6" height="3.3" fill="#000"/>
<rect x="509.3" y="175.0" width="17.4" height="2.5" fill="#0000ff"/>
<rect x="445.4" y="178.2" width="17.4" height="3.3" fill="#ff0a64"/>
<path d="M510.6 179.2L516.0 181.2H505.2Z" fill="#00ff00"/>
<rect x="514.3" y="180.0" width="8.3" height="1.3" fill="#ebc3c3"/>
<rect x="505.2" y="182.1" width="17.4" height="2.9" fill="#0000ff"/>
<rect x="438.0" y="186.1" width="33.2" height="1.7" fill="#000"/>
<rect x="527.6" y="185.4" width="6.6" height="0.9" fill="#ebc3c3"/>
<rect x="496.1" y="189.1" width="5.0" height="2.1" fill="#ff0a64"/>
<rect x="503.5" y="189.1" width="7.5" height="2.2" fill="#dc8238"/>
<rect x="522.6" y="187.6" width="10.0" height="1.7" fill="#000"/>
<rect x="522.6" y="191.4" width="3.3" height="1.8" fill="#ff0a64"/>
<rect x="477.8" y="192.2" width="18.3" height="2.9" fill="#ff0a64"/>
<rect x="492.7" y="196.1" width="18.3" height="1.7" fill="#000"/>
<rect x="504.4" y="197.9" width="6.6" height="2.1" fill="#ff0a64"/>
<rect x="472.8" y="200.3" width="28.2" height="1.7" fill="#000"/>
<rect x="542.5" y="198.6" width="12.5" height="1.7" fill="#c0e0ec"/>
<rect x="547.8" y="198.4" width="2" height="2" fill="#5aaac4"/>
<rect x="499.4" y="201.2" width="2.5" height="2.1" fill="#0000ff"/>
<path d="M508.1 202.3L514.3 203.9H501.9Z" fill="#00ff00"/>
<rect x="547.5" y="204.2" width="5.0" height="1.7" fill="#000"/>
<rect x="497.7" y="206.2" width="13.3" height="2.1" fill="#0000ff"/>
<rect x="499.4" y="205.5" width="13.3" height="1.8" fill="#ff0a64"/>
<rect x="512.7" y="207.1" width="13.3" height="1.3" fill="#ebc3c3"/>
<rect x="485.3" y="207.9" width="15.8" height="2.1" fill="#ff0a64"/>
<rect x="504.4" y="207.9" width="6.6" height="2.1" fill="#0000ff"/>
<rect x="485.3" y="207.7" width="16.6" height="3.3" fill="#ff0a64"/>
<rect x="503.5" y="207.6" width="7.5" height="2.5" fill="#0000ff"/>
<rect x="511.0" y="208.2" width="14.9" height="1.3" fill="#ebc3c3"/>
<rect x="506.0" y="209.7" width="16.6" height="2.5" fill="#ff0a64"/>
<rect x="459.5" y="213.3" width="17.4" height="3.3" fill="#ff0a64"/>
<rect x="504.4" y="213.1" width="16.6" height="1.3" fill="#ebc3c3"/>
<rect x="486.9" y="216.3" width="15.8" height="1.7" fill="#000"/>
<rect x="502.7" y="214.4" width="18.3" height="2.1" fill="#0000ff"/>
<rect x="496.1" y="218.3" width="5.0" height="3.3" fill="#0000ff"/>
<rect x="502.7" y="218.9" width="14.9" height="2.2" fill="#dc8238"/>
<rect x="518.5" y="217.0" width="11.6" height="4.6" fill="#ff0a64"/>
<rect x="501.0" y="221.6" width="6.6" height="2.1" fill="#0000ff"/>
<rect x="458.7" y="222.1" width="16.6" height="1.7" fill="#000"/>
<rect x="497.7" y="224.0" width="11.6" height="2.2" fill="#dc8238"/>
<rect x="509.3" y="222.9" width="11.6" height="3.3" fill="#ebc3c3"/>
<rect x="496.1" y="228.0" width="16.6" height="2.1" fill="#ff0a64"/>
<rect x="521.8" y="226.1" width="6.6" height="2.9" fill="#0000ff"/>
<rect x="496.1" y="230.2" width="14.9" height="2.1" fill="#0000ff"/>
<rect x="511.0" y="230.2" width="12.5" height="2.0" fill="#ebc3c3"/>
<path d="M511.8 231.3L514.3 232.9H509.3Z" fill="#00ff00"/>
<rect x="542.5" y="231.8" width="9.1" height="0.9" fill="#ebc3c3"/>
<rect x="538.4" y="234.5" width="10.8" height="1.7" fill="#000"/>
<rect x="472.8" y="233.1" width="19.1" height="2.9" fill="#ff0a64"/>
<rect x="499.4" y="234.9" width="5.0" height="3.3" fill="#0000ff"/>
<rect x="504.4" y="235.7" width="19.9" height="1.8" fill="#ff0a64"/>
<rect x="504.4" y="237.7" width="11.6" height="2.1" fill="#0000ff"/>
<rect x="469.5" y="242.0" width="21.6" height="1.7" fill="#000"/>
<path d="M498.6 241.2L504.4 243.5H492.7Z" fill="#00ff00"/>
<rect x="497.7" y="242.3" width="16.6" height="1.8" fill="#ff0a64"/>
<rect x="516.0" y="242.0" width="5.0" height="1.7" fill="#000"/>
<rect x="511.0" y="245.4" width="11.6" height="5.0" fill="#ebc3c3"/>
<rect x="483.6" y="246.1" width="17.4" height="2.5" fill="#ff0a64"/>
<rect x="501.0" y="246.9" width="8.3" height="1.8" fill="#000"/>
<rect x="527.6" y="247.6" width="18.3" height="2.9" fill="#ff0a64"/>
<rect x="485.3" y="249.6" width="19.1" height="2.5" fill="#0000ff"/>
<rect x="507.7" y="251.7" width="13.3" height="1.7" fill="#c0e0ec"/>
<rect x="513.3" y="251.5" width="2" height="2" fill="#5aaac4"/>
<rect x="491.1" y="253.9" width="16.6" height="2.1" fill="#0000ff"/>
<rect x="486.1" y="254.0" width="5.0" height="1.7" fill="#000"/>
<rect x="530.1" y="255.6" width="15.8" height="1.7" fill="#000"/>
<rect x="512.7" y="256.3" width="9.1" height="2.3" fill="#ebc3c3"/>
<rect x="476.1" y="255.8" width="10.0" height="3.3" fill="#ff0a64"/>
<rect x="472.8" y="258.0" width="24.9" height="2.9" fill="#0000ff"/>
<path d="M505.2 258.3L512.7 260.6H497.7Z" fill="#00ff00"/>
<rect x="482.8" y="262.6" width="14.9" height="1.3" fill="#c0e0ec"/>
<rect x="489.3" y="262.3" width="2" height="2" fill="#5aaac4"/>
<rect x="496.9" y="264.0" width="8.3" height="2.6" fill="#000"/>
<rect x="507.7" y="263.3" width="13.3" height="1.7" fill="#c0e0ec"/>
<rect x="513.3" y="263.1" width="2" height="2" fill="#5aaac4"/>
<rect x="464.5" y="265.3" width="14.9" height="1.7" fill="#c0e0ec"/>
<rect x="471.0" y="265.1" width="2" height="2" fill="#5aaac4"/>
<rect x="477.8" y="267.2" width="18.3" height="1.8" fill="#000"/>
<rect x="511.0" y="265.3" width="10.0" height="1.0" fill="#ebc3c3"/>
<rect x="484.4" y="269.3" width="11.6" height="1.8" fill="#000"/>
<rect x="466.2" y="271.6" width="8.3" height="1.7" fill="#000"/>
<rect x="722.9" y="23.8" width="14.1" height="1.7" fill="#c0e0ec"/>
<rect x="728.9" y="23.6" width="2" height="2" fill="#5aaac4"/>
<rect x="716.2" y="27.1" width="13.3" height="1.7" fill="#c0e0ec"/>
<rect x="721.9" y="26.9" width="2" height="2" fill="#5aaac4"/>
<rect x="719.6" y="30.4" width="16.6" height="2.3" fill="#ebc3c3"/>
<rect x="729.5" y="29.1" width="14.1" height="3.3" fill="#d08c90"/>
<rect x="709.6" y="32.8" width="10.0" height="1.0" fill="#cbc3e3"/>
<rect x="707.9" y="34.9" width="10.0" height="1.8" fill="#ff0a64"/>
<rect x="716.2" y="35.1" width="10.0" height="1.3" fill="#ebc3c3"/>
<rect x="707.9" y="36.2" width="6.6" height="1.7" fill="#000"/>
<rect x="712.9" y="36.9" width="13.3" height="2.7" fill="#ebc3c3"/>
<rect x="724.5" y="36.6" width="9.1" height="1.7" fill="#000"/>
<path d="M707.9 39.9L712.9 41.6H703.0Z" fill="#00ff00"/>
<rect x="701.3" y="40.3" width="8.3" height="1.8" fill="#ff0a64"/>
<rect x="709.6" y="39.6" width="14.9" height="3.0" fill="#ebc3c3"/>
<rect x="722.9" y="41.5" width="3.3" height="1.8" fill="#000"/>
<rect x="699.6" y="42.8" width="16.6" height="2.5" fill="#ff0a64"/>
<rect x="703.0" y="44.8" width="10.0" height="0.9" fill="#c0e0ec"/>
<rect x="706.9" y="44.2" width="2" height="2" fill="#5aaac4"/>
<rect x="712.9" y="44.2" width="6.6" height="1.3" fill="#ebc3c3"/>
<rect x="696.3" y="45.9" width="21.6" height="2.9" fill="#ff0a64"/>
<rect x="709.6" y="47.5" width="8.3" height="1.3" fill="#ebc3c3"/>
<rect x="695.5" y="49.2" width="19.1" height="2.9" fill="#ff0a64"/>
<rect x="699.6" y="50.7" width="10.0" height="1.7" fill="#dc8238"/>
<rect x="693.0" y="52.7" width="4.2" height="1.7" fill="#000"/>
<rect x="714.6" y="52.7" width="8.3" height="1.7" fill="#000"/>
<rect x="693.8" y="53.2" width="19.9" height="3.3" fill="#ff0a64"/>
<rect x="693.0" y="57.0" width="18.3" height="2.9" fill="#ff0a64"/>
<rect x="696.3" y="59.8" width="6.6" height="1.7" fill="#dc8238"/>
<rect x="701.3" y="59.2" width="10.0" height="1.3" fill="#ebc3c3"/>
<rect x="689.7" y="59.3" width="5.0" height="1.7" fill="#000"/>
<rect x="711.3" y="59.3" width="7.5" height="1.7" fill="#000"/>
<rect x="692.2" y="62.2" width="17.4" height="1.8" fill="#ff0a64"/>
<rect x="693.0" y="63.4" width="17.4" height="1.8" fill="#0000ff"/>
<rect x="691.3" y="65.3" width="18.3" height="2.9" fill="#ff0a64"/>
<rect x="693.0" y="68.9" width="6.6" height="1.7" fill="#000"/>
<rect x="699.6" y="69.1" width="10.0" height="1.3" fill="#ebc3c3"/>
<rect x="709.6" y="70.6" width="2.5" height="1.7" fill="#000"/>
<rect x="690.5" y="70.8" width="17.4" height="2.9" fill="#ff0a64"/>
<path d="M694.7 73.1L698.0 74.7H691.3Z" fill="#00ff00"/>
<rect x="698.0" y="73.3" width="10.0" height="1.3" fill="#ebc3c3"/>
<rect x="688.0" y="75.4" width="18.3" height="2.1" fill="#ff0a64"/>
<rect x="693.0" y="78.4" width="10.0" height="1.0" fill="#c0e0ec"/>
<rect x="697.0" y="77.9" width="2" height="2" fill="#5aaac4"/>
<rect x="686.4" y="79.4" width="16.6" height="6.2" fill="#ff0a64"/>
<path d="M691.3 80.0L694.7 81.6H688.0Z" fill="#00ff00"/>
<rect x="693.0" y="84.1" width="10.0" height="1.8" fill="#ff0a64"/>
<rect x="680.6" y="87.5" width="12.5" height="1.7" fill="#000"/>
<rect x="704.6" y="87.5" width="5.8" height="1.7" fill="#000"/>
<rect x="691.3" y="89.1" width="1.7" height="1.7" fill="#000"/>
<rect x="688.0" y="145.0" width="14.9" height="1.7" fill="#dc8238"/>
<rect x="686.4" y="147.2" width="16.6" height="4.0" fill="#c0e0ec"/>
<rect x="693.7" y="148.2" width="2" height="2" fill="#5aaac4"/>
<rect x="686.0" y="148.9" width="17.8" height="29.7" fill="#ff0a64"/>
<rect x="686.0" y="176.0" width="17.8" height="1.8" fill="#0000ff"/>
<path d="M689.7 179.2L693.0 181.2H686.4Z" fill="#00ff00"/>
<rect x="686.4" y="181.6" width="6.6" height="1.8" fill="#0000ff"/>
<rect x="686.4" y="183.6" width="6.6" height="4.2" fill="#ff0a64"/>
<rect x="688.0" y="189.0" width="5.0" height="1.7" fill="#dc8238"/>
<rect x="684.4" y="190.7" width="8.6" height="4.2" fill="#ff0a64"/>
<rect x="684.7" y="195.4" width="8.3" height="2.1" fill="#ff0a64"/>
<rect x="686.4" y="200.3" width="6.6" height="1.7" fill="#dc8238"/>
<path d="M688.9 202.3L693.0 203.9H684.7Z" fill="#00ff00"/>
<rect x="683.0" y="205.6" width="10.0" height="3.3" fill="#ff0a64"/>
<rect x="680.6" y="205.9" width="3.3" height="1.7" fill="#000"/>
<rect x="683.0" y="207.5" width="8.3" height="5.0" fill="#ff0a64"/>
<rect x="681.4" y="214.0" width="18.3" height="1.3" fill="#c0e0ec"/>
<rect x="684.9" y="213.6" width="2" height="2" fill="#5aaac4"/>
<rect x="694.1" y="213.6" width="2" height="2" fill="#5aaac4"/>
<rect x="681.4" y="218.7" width="1.7" height="1.8" fill="#0000ff"/>
<rect x="682.2" y="218.4" width="17.4" height="1.8" fill="#ff0a64"/>
<rect x="683.0" y="219.6" width="16.6" height="1.7" fill="#dc8238"/>
<rect x="681.4" y="221.4" width="16.6" height="2.5" fill="#ff0a64"/>
<rect x="682.2" y="224.6" width="7.5" height="1.7" fill="#dc8238"/>
<rect x="681.4" y="226.7" width="6.6" height="1.8" fill="#0000ff"/>
<rect x="681.4" y="228.2" width="6.6" height="1.8" fill="#ff0a64"/>
<rect x="668.1" y="230.1" width="19.9" height="1.7" fill="#000"/>
<rect x="698.0" y="230.1" width="12.5" height="1.7" fill="#000"/>
<path d="M684.7 231.8L688.0 233.4H681.4Z" fill="#00ff00"/>
<rect x="674.7" y="233.7" width="3.3" height="1.7" fill="#000"/>
<rect x="699.6" y="233.7" width="3.3" height="1.7" fill="#000"/>
<rect x="676.4" y="236.8" width="18.3" height="3.7" fill="#0000ff"/>
<rect x="673.1" y="237.9" width="5.0" height="1.7" fill="#000"/>
<rect x="696.3" y="237.9" width="6.6" height="1.7" fill="#000"/>
<path d="M682.2 241.2L686.4 242.9H678.1Z" fill="#00ff00"/>
<rect x="676.4" y="242.8" width="8.3" height="1.8" fill="#ff0a64"/>
<rect x="696.3" y="240.4" width="4.2" height="1.7" fill="#000"/>
<rect x="663.1" y="246.7" width="13.3" height="1.7" fill="#000"/>
<rect x="672.3" y="246.4" width="3.3" height="1.8" fill="#ff0a64"/>
<rect x="693.8" y="246.7" width="13.3" height="1.7" fill="#000"/>
<rect x="676.4" y="247.8" width="13.3" height="5.0" fill="#c0e0ec"/>
<rect x="682.0" y="249.3" width="2" height="2" fill="#5aaac4"/>
<rect x="664.0" y="255.7" width="1.7" height="1.8" fill="#ff0a64"/>
<rect x="669.8" y="254.5" width="10.0" height="1.7" fill="#c0e0ec"/>
<rect x="673.7" y="254.3" width="2" height="2" fill="#5aaac4"/>
<path d="M674.7 254.0L676.4 255.6H673.1Z" fill="#00ff00"/>
<rect x="679.7" y="256.1" width="6.6" height="1.7" fill="#ebc3c3"/>
<path d="M668.1 259.3L674.7 261.3H661.5Z" fill="#00ff00"/>
<rect x="676.4" y="259.0" width="11.6" height="2.6" fill="#000"/>
<rect x="673.1" y="261.1" width="10.0" height="1.7" fill="#000"/>
<rect x="648.2" y="261.6" width="16.6" height="4.0" fill="#c0e0ec"/>
<rect x="655.5" y="262.6" width="2" height="2" fill="#5aaac4"/>
<rect x="664.8" y="263.6" width="10.0" height="2.3" fill="#ebc3c3"/>
<rect x="671.4" y="264.4" width="8.3" height="1.7" fill="#000"/>
<rect x="652.3" y="268.1" width="19.1" height="2.6" fill="#000"/>
<rect x="654.8" y="270.6" width="5.0" height="1.7" fill="#000"/>
<rect x="881.8" y="23.8" width="12.5" height="1.7" fill="#c0e0ec"/>
<rect x="887.0" y="23.6" width="2" height="2" fill="#5aaac4"/>
<rect x="873.5" y="27.3" width="9.1" height="1.3" fill="#c0e0ec"/>
<rect x="877.1" y="26.9" width="2" height="2" fill="#5aaac4"/>
<rect x="881.8" y="29.4" width="9.1" height="2.7" fill="#d08c90"/>
<rect x="870.2" y="30.8" width="5.8" height="1.7" fill="#000"/>
<rect x="876.0" y="32.4" width="23.2" height="1.0" fill="#ebc3c3"/>
<rect x="874.3" y="32.7" width="6.6" height="1.7" fill="#000"/>
<rect x="837.8" y="32.2" width="16.6" height="3.7" fill="#ff0a64"/>
<rect x="871.0" y="36.1" width="11.6" height="1.0" fill="#ebc3c3"/>
<rect x="881.0" y="35.7" width="8.3" height="1.7" fill="#000"/>
<rect x="889.3" y="35.3" width="6.6" height="1.0" fill="#ebc3c3"/>
<rect x="829.5" y="39.8" width="32.4" height="1.8" fill="#000"/>
<path d="M873.5 38.7L877.7 41.1H869.4Z" fill="#00ff00"/>
<rect x="877.7" y="39.2" width="14.9" height="1.3" fill="#ebc3c3"/>
<rect x="886.0" y="38.1" width="11.6" height="1.3" fill="#c0e0ec"/>
<rect x="890.8" y="37.7" width="2" height="2" fill="#5aaac4"/>
<rect x="879.3" y="40.3" width="19.9" height="1.8" fill="#ff0a64"/>
<rect x="900.9" y="43.7" width="13.3" height="1.7" fill="#cbc3e3"/>
<rect x="867.7" y="44.9" width="2.5" height="3.3" fill="#0000ff"/>
<rect x="869.4" y="43.4" width="16.6" height="2.9" fill="#ff0a64"/>
<rect x="869.4" y="45.9" width="23.2" height="2.9" fill="#ff0a64"/>
<rect x="886.0" y="47.6" width="21.6" height="4.6" fill="#ff0a64"/>
<rect x="900.9" y="49.0" width="13.3" height="1.7" fill="#000"/>
<rect x="872.7" y="50.9" width="13.3" height="1.8" fill="#dc8238"/>
<rect x="869.4" y="52.8" width="18.3" height="2.5" fill="#ff0a64"/>
<rect x="895.9" y="52.7" width="6.6" height="1.7" fill="#000"/>
<rect x="869.4" y="55.0" width="16.6" height="2.9" fill="#ff0a64"/>
<rect x="886.0" y="55.6" width="13.3" height="1.8" fill="#ff0a64"/>
<rect x="897.6" y="57.6" width="11.6" height="1.7" fill="#000"/>
<rect x="866.0" y="58.8" width="23.2" height="2.1" fill="#ff0a64"/>
<rect x="889.3" y="59.6" width="13.3" height="2.2" fill="#dc8238"/>
<rect x="864.4" y="59.8" width="3.3" height="1.7" fill="#000"/>
<rect x="869.4" y="61.3" width="16.6" height="2.1" fill="#ff0a64"/>
<rect x="886.0" y="62.2" width="14.9" height="1.8" fill="#ff0a64"/>
<rect x="867.7" y="64.0" width="8.3" height="3.3" fill="#0000ff"/>
<rect x="876.0" y="64.2" width="10.0" height="2.9" fill="#ff0a64"/>
<rect x="892.6" y="65.3" width="6.6" height="1.7" fill="#000"/>
<rect x="874.3" y="66.7" width="18.3" height="2.9" fill="#ff0a64"/>
<rect x="877.7" y="68.5" width="11.6" height="1.0" fill="#ebc3c3"/>
<rect x="872.7" y="68.1" width="3.3" height="1.7" fill="#000"/>
<rect x="892.6" y="68.1" width="10.0" height="1.7" fill="#000"/>
<path d="M865.2 72.3L871.0 74.6H859.4Z" fill="#00ff00"/>
<rect x="871.0" y="71.8" width="8.3" height="1.0" fill="#ebc3c3"/>
<rect x="879.3" y="71.3" width="16.6" height="2.9" fill="#ff0a64"/>
<rect x="886.0" y="70.6" width="10.0" height="1.7" fill="#dc8238"/>
<rect x="861.1" y="75.6" width="6.6" height="1.7" fill="#000"/>
<rect x="869.4" y="75.0" width="16.6" height="2.9" fill="#ff0a64"/>
<rect x="882.6" y="76.3" width="14.9" height="2.9" fill="#ff0a64"/>
<path d="M895.9 78.1L897.6 79.7H894.3Z" fill="#00ff00"/>
<rect x="871.0" y="94.9" width="21.6" height="1.7" fill="#ebc3c3"/>
<rect x="876.0" y="100.1" width="19.9" height="1.3" fill="#ebc3c3"/>
<rect x="871.0" y="106.6" width="19.9" height="1.7" fill="#ebc3c3"/>
<rect x="872.7" y="112.2" width="19.9" height="2.0" fill="#ebc3c3"/>
<rect x="874.3" y="117.2" width="18.3" height="2.0" fill="#ebc3c3"/>
<rect x="872.7" y="124.0" width="18.3" height="1.7" fill="#ebc3c3"/>
<rect x="876.0" y="129.0" width="19.9" height="1.7" fill="#ebc3c3"/>
<rect x="874.3" y="137.1" width="19.9" height="2.0" fill="#ebc3c3"/>
<rect x="876.0" y="142.4" width="19.9" height="1.3" fill="#ebc3c3"/>
<rect x="856.1" y="80.8" width="11.6" height="1.7" fill="#000"/>
<rect x="867.7" y="79.7" width="18.3" height="4.6" fill="#ff0a64"/>
<rect x="872.7" y="85.1" width="13.3" height="1.3" fill="#ebc3c3"/>
<path d="M895.5 80.0L902.6 81.7H888.5Z" fill="#00ff00"/>
<rect x="888.5" y="82.5" width="8.3" height="1.7" fill="#000"/>
<rect x="857.7" y="85.0" width="11.6" height="1.7" fill="#000"/>
<rect x="892.6" y="86.6" width="5.0" height="1.7" fill="#000"/>
<rect x="874.3" y="89.0" width="5.0" height="1.8" fill="#000"/>
<rect x="886.0" y="91.6" width="6.6" height="1.7" fill="#000"/>
<rect x="846.1" y="91.2" width="8.3" height="0.9" fill="#ebc3c3"/>
<rect x="835.3" y="93.3" width="27.4" height="1.7" fill="#000"/>
<rect x="862.7" y="93.4" width="16.6" height="1.3" fill="#ebc3c3"/>
<rect x="859.4" y="94.4" width="5.0" height="1.7" fill="#000"/>
<rect x="869.4" y="95.8" width="6.6" height="1.7" fill="#000"/>
<rect x="871.9" y="98.7" width="3.3" height="1.7" fill="#000"/>
<rect x="856.1" y="98.6" width="8.3" height="0.9" fill="#ebc3c3"/>
<rect x="854.4" y="100.2" width="8.3" height="1.7" fill="#000"/>
<rect x="882.6" y="104.4" width="16.6" height="1.0" fill="#ebc3c3"/>
<rect x="852.8" y="104.0" width="8.3" height="1.8" fill="#000"/>
<rect x="863.6" y="104.4" width="17.4" height="1.7" fill="#000"/>
<rect x="889.3" y="105.7" width="5.0" height="1.7" fill="#000"/>
<rect x="851.1" y="107.8" width="8.3" height="1.8" fill="#000"/>
<rect x="872.7" y="109.0" width="3.3" height="1.7" fill="#000"/>
<rect x="867.7" y="113.9" width="3.3" height="1.8" fill="#000"/>
<rect x="868.5" y="114.8" width="5.8" height="1.7" fill="#000"/>
<rect x="907.5" y="114.4" width="11.6" height="0.9" fill="#ebc3c3"/>
<rect x="907.5" y="116.0" width="5.0" height="1.7" fill="#000"/>
<rect x="910.0" y="119.8" width="2.5" height="1.7" fill="#000"/>
<rect x="858.6" y="118.2" width="4.2" height="1.7" fill="#000"/>
<rect x="881.0" y="119.3" width="19.9" height="1.0" fill="#ebc3c3"/>
<rect x="870.2" y="118.4" width="13.3" height="2.2" fill="#000"/>
<rect x="857.7" y="122.0" width="8.3" height="1.7" fill="#000"/>
<rect x="892.6" y="122.6" width="4.2" height="1.7" fill="#000"/>
<rect x="885.1" y="126.0" width="4.2" height="1.7" fill="#000"/>
<rect x="868.5" y="127.4" width="4.2" height="2.2" fill="#000"/>
<rect x="871.0" y="129.8" width="6.6" height="1.7" fill="#000"/>
<rect x="876.0" y="131.5" width="16.6" height="3.3" fill="#ebc3c3"/>
<rect x="890.1" y="135.6" width="2.5" height="1.7" fill="#000"/>
<rect x="888.5" y="140.9" width="5.0" height="1.7" fill="#000"/>
<rect x="863.6" y="143.1" width="10.8" height="1.7" fill="#000"/>
<rect x="866.0" y="145.0" width="13.3" height="1.7" fill="#dc8238"/>
<rect x="862.7" y="147.0" width="29.9" height="3.3" fill="#c0e0ec"/>
<rect x="866.7" y="147.7" width="2" height="2" fill="#5aaac4"/>
<rect x="876.7" y="147.7" width="2" height="2" fill="#5aaac4"/>
<rect x="886.6" y="147.7" width="2" height="2" fill="#5aaac4"/>
<rect x="886.0" y="147.8" width="8.3" height="1.7" fill="#000"/>
<rect x="884.3" y="149.9" width="17.4" height="2.9" fill="#ff0a64"/>
<rect x="864.4" y="154.7" width="6.6" height="2.2" fill="#000"/>
<rect x="869.4" y="149.8" width="16.6" height="25.9" fill="#ff0a64"/>
<rect x="864.4" y="172.1" width="20.8" height="2.9" fill="#ff0a64"/>
<rect x="889.3" y="157.1" width="6.6" height="1.7" fill="#000"/>
<rect x="889.3" y="159.9" width="3.3" height="1.7" fill="#000"/>
<rect x="888.5" y="162.7" width="2.5" height="1.7" fill="#000"/>
<rect x="864.4" y="175.8" width="16.6" height="2.1" fill="#0000ff"/>
<rect x="882.6" y="172.9" width="14.1" height="3.3" fill="#0000ff"/>
<path d="M871.9 179.2L876.0 181.2H867.7Z" fill="#00ff00"/>
<rect x="888.5" y="178.6" width="4.2" height="2.5" fill="#ff0a64"/>
<rect x="889.3" y="181.0" width="4.2" height="1.7" fill="#000"/>
<rect x="869.4" y="183.4" width="6.6" height="2.9" fill="#ff0a64"/>
<rect x="872.7" y="188.6" width="3.3" height="1.7" fill="#000"/>
<rect x="846.1" y="187.4" width="10.0" height="0.9" fill="#ebc3c3"/>
<rect x="837.0" y="189.8" width="20.8" height="1.7" fill="#000"/>
<rect x="886.0" y="189.1" width="7.5" height="2.2" fill="#dc8238"/>
<rect x="871.0" y="191.7" width="6.6" height="2.9" fill="#ff0a64"/>
<rect x="870.2" y="194.0" width="2.5" height="1.7" fill="#000"/>
<rect x="866.0" y="196.5" width="10.0" height="2.5" fill="#ff0a64"/>
<rect x="885.1" y="194.8" width="3.3" height="1.7" fill="#000"/>
<rect x="861.1" y="202.3" width="5.0" height="1.7" fill="#000"/>
<rect x="866.0" y="201.9" width="14.9" height="2.5" fill="#0000ff"/>
<path d="M882.6 202.6L886.0 204.2H879.3Z" fill="#00ff00"/>
<path d="M892.6 202.0L895.9 203.6H889.3Z" fill="#00ff00"/>
<rect x="866.0" y="205.1" width="10.0" height="2.1" fill="#ff0a64"/>
<rect x="858.6" y="207.5" width="17.4" height="2.5" fill="#0000ff"/>
<rect x="887.6" y="207.5" width="10.8" height="2.5" fill="#ff0a64"/>
<rect x="858.6" y="207.5" width="17.4" height="3.7" fill="#0000ff"/>
<rect x="868.5" y="209.9" width="7.5" height="2.9" fill="#ff0a64"/>
<rect x="876.0" y="208.0" width="10.0" height="3.3" fill="#ebc3c3"/>
<rect x="886.8" y="207.5" width="11.6" height="3.7" fill="#ff0a64"/>
<rect x="867.7" y="213.8" width="18.3" height="1.7" fill="#c0e0ec"/>
<rect x="871.3" y="213.6" width="2" height="2" fill="#5aaac4"/>
<rect x="880.4" y="213.6" width="2" height="2" fill="#5aaac4"/>
<rect x="863.6" y="216.3" width="2.5" height="1.7" fill="#000"/>
<rect x="864.4" y="217.3" width="6.6" height="2.9" fill="#0000ff"/>
<rect x="871.0" y="217.1" width="16.6" height="3.3" fill="#ff0a64"/>
<rect x="890.9" y="216.8" width="8.3" height="1.7" fill="#000"/>
<rect x="894.3" y="219.0" width="13.3" height="1.8" fill="#dc8238"/>
<rect x="861.9" y="220.9" width="17.4" height="3.3" fill="#ff0a64"/>
<rect x="881.0" y="222.4" width="5.0" height="1.7" fill="#000"/>
<rect x="899.2" y="224.6" width="2.5" height="1.7" fill="#000"/>
<rect x="871.0" y="224.2" width="10.0" height="1.7" fill="#dc8238"/>
<rect x="859.4" y="226.1" width="10.0" height="1.0" fill="#ebc3c3"/>
<rect x="858.6" y="227.4" width="17.4" height="3.3" fill="#0000ff"/>
<rect x="876.0" y="227.9" width="10.0" height="2.3" fill="#ebc3c3"/>
<rect x="886.8" y="227.8" width="13.3" height="2.5" fill="#ff0a64"/>
<rect x="869.4" y="231.7" width="11.6" height="1.7" fill="#ebc3c3"/>
<path d="M888.9 232.1L894.3 233.7H883.5Z" fill="#00ff00"/>
<rect x="849.4" y="234.6" width="16.6" height="2.5" fill="#0000ff"/>
<rect x="864.4" y="236.1" width="11.6" height="2.9" fill="#0000ff"/>
<rect x="867.7" y="234.0" width="8.3" height="1.8" fill="#ff0a64"/>
<rect x="876.0" y="235.9" width="10.0" height="1.3" fill="#ebc3c3"/>
<rect x="887.6" y="235.7" width="6.6" height="1.7" fill="#000"/>
<rect x="846.1" y="238.6" width="16.6" height="2.5" fill="#0000ff"/>
<rect x="876.0" y="239.0" width="5.0" height="1.8" fill="#0000ff"/>
<rect x="851.1" y="243.3" width="11.6" height="1.8" fill="#000"/>
<rect x="864.4" y="242.4" width="10.0" height="1.0" fill="#ebc3c3"/>
<path d="M886.4 241.7L894.3 243.4H878.5Z" fill="#00ff00"/>
<rect x="886.0" y="242.7" width="12.5" height="2.1" fill="#ff0a64"/>
<rect x="876.0" y="241.2" width="5.0" height="1.7" fill="#000"/>
<rect x="832.8" y="246.3" width="26.6" height="2.0" fill="#c0e0ec"/>
<rect x="838.5" y="246.3" width="2" height="2" fill="#5aaac4"/>
<rect x="851.8" y="246.3" width="2" height="2" fill="#5aaac4"/>
<rect x="859.4" y="245.9" width="14.9" height="2.9" fill="#ff0a64"/>
<rect x="874.3" y="245.4" width="11.6" height="2.3" fill="#ebc3c3"/>
<rect x="824.5" y="252.0" width="30.7" height="1.7" fill="#000"/>
<rect x="869.4" y="250.2" width="14.9" height="2.0" fill="#c0e0ec"/>
<rect x="875.8" y="250.2" width="2" height="2" fill="#5aaac4"/>
<rect x="887.6" y="247.8" width="3.3" height="1.7" fill="#000"/>
<rect x="888.5" y="250.6" width="3.3" height="1.7" fill="#000"/>
<rect x="858.6" y="254.0" width="15.8" height="1.7" fill="#000"/>
<rect x="848.6" y="256.1" width="14.1" height="2.0" fill="#c0e0ec"/>
<rect x="854.7" y="256.1" width="2" height="2" fill="#5aaac4"/>
<rect x="862.7" y="255.8" width="11.6" height="3.3" fill="#ff0a64"/>
<rect x="872.7" y="254.1" width="5.0" height="1.8" fill="#0000ff"/>
<path d="M889.3 255.8L894.3 257.5H884.3Z" fill="#00ff00"/>
<rect x="876.0" y="256.8" width="10.0" height="1.3" fill="#ebc3c3"/>
<rect x="848.6" y="258.5" width="15.8" height="2.5" fill="#0000ff"/>
<path d="M880.2 259.1L886.0 260.8H874.3Z" fill="#00ff00"/>
<rect x="842.8" y="261.8" width="13.3" height="1.3" fill="#c0e0ec"/>
<rect x="848.4" y="261.4" width="2" height="2" fill="#5aaac4"/>
<rect x="838.7" y="265.3" width="15.8" height="1.7" fill="#c0e0ec"/>
<rect x="845.5" y="265.1" width="2" height="2" fill="#5aaac4"/>
<rect x="849.4" y="265.7" width="21.6" height="2.6" fill="#000"/>
<rect x="862.7" y="263.9" width="13.3" height="1.7" fill="#ebc3c3"/>
<rect x="879.3" y="263.3" width="6.6" height="1.7" fill="#000"/>
<rect x="881.0" y="266.1" width="3.3" height="1.7" fill="#000"/>
<rect x="847.8" y="268.5" width="14.9" height="2.6" fill="#000"/>
<rect x="840.3" y="271.1" width="5.8" height="1.7" fill="#000"/>
<rect x="854.4" y="271.1" width="5.0" height="1.7" fill="#000"/>
</svg>
<div class="pl" style="left:54.5px">A</div><div class="tk" style="left:40.9px">-7</div><div class="tk" style="left:119.7px">0</div><div class="tk" style="left:199.1px">7</div><div class="pl" style="left:236.5px">B</div><div class="tk" style="left:221.6px">-7</div><div class="tk" style="left:300.7px">0</div><div class="tk" style="left:380.0px">7</div><div class="pl" style="left:418.5px">C</div><div class="tk" style="left:403.8px">-7</div><div class="tk" style="left:483.3px">0</div><div class="tk" style="left:562.5px">7</div><div class="pl" style="left:600.5px">D</div><div class="tk" style="left:586.6px">-7</div><div class="tk" style="left:665.4px">0</div><div class="tk" style="left:744.8px">7</div><div class="pl" style="left:783.5px">E</div><div class="tk" style="left:769.4px">-7</div><div class="tk" style="left:848.0px">0</div><div class="tk" style="left:927.5px">7</div>
<div class="ln" style="top:338px;left:76.5px">The coordinate on the x-axis of each graph plots the log(base 2)-ratio of the abundance of individual</div>
<div class="ln" style="top:366px;left:5px">metabolites in leaves versus flowers.&nbsp; The order of the metabolites on the y-axis is identical in all five</div>
<div class="ln" style="top:393.2px;left:5px">graphs.&nbsp; The five <i>Prunella</i> accessions are: <span class="sf">PI 664873</span> <b>A</b>, <span class="sf">PI 664874</span> <b>B</b>, <span class="sf">PI 664875</span> <b>C</b>, <span class="sf">PI 664876</span> <b>D</b>, and <span class="sf">PI</span></div>
<div class="ln" style="top:423.4px;left:5px"><span class="sf" style="margin-right:2px">664889</span> <b>E</b>.&nbsp; The 340 metabolites are categorized as: amino acids (<span class="sp" style="width:24.4px"></span>)<span style="margin-left:-2.4px">, fatty acids (</span><span class="sp" style="width:23.5px"></span>), organic acids (<span class="sp" style="width:23px"></span>),</div>
<div class="ln" style="top:451.1px;left:5px">phenolics (<span class="sp"></span>), sugars (<span class="sp"></span>), sugar acids (<span class="sp"></span>), sterols and triterpene&nbsp; (<span class="sp"></span>), and chemically unidentified (<span class="sp"></span>).</div>
<svg width="1024" height="480" style="position:absolute;left:0;top:0">
<rect x="623" y="428" width="14.7" height="14.5" fill="#0000ff"/>
<rect x="775.9" y="427.7" width="15.1" height="15.3" fill="#ff0066"/>
<path d="M967.5 425.2L974.7 440.5H959.7Z" fill="#00ff00"/>
<path d="M111.8 455.3L126 469.8M126 455.3L111.8 469.8" stroke="#7b4ea0" stroke-width="2.6"/>
<path d="M229.4 453.5L243.4 467.9M243.4 453.5L229.4 467.9M236.4 452.3V469" stroke="#3f9ab6" stroke-width="2.8"/>
<circle cx="398.1" cy="463.5" r="9.4" fill="#d9823b"/>
<path d="M649.9 463.8H665M657.5 456V471.6" stroke="#7b9cd0" stroke-width="2.8"/>
<rect x="971.3" y="457.9" width="16.7" height="12.6" rx="2.5" fill="#d08c90"/>
</svg>

</body></html>
